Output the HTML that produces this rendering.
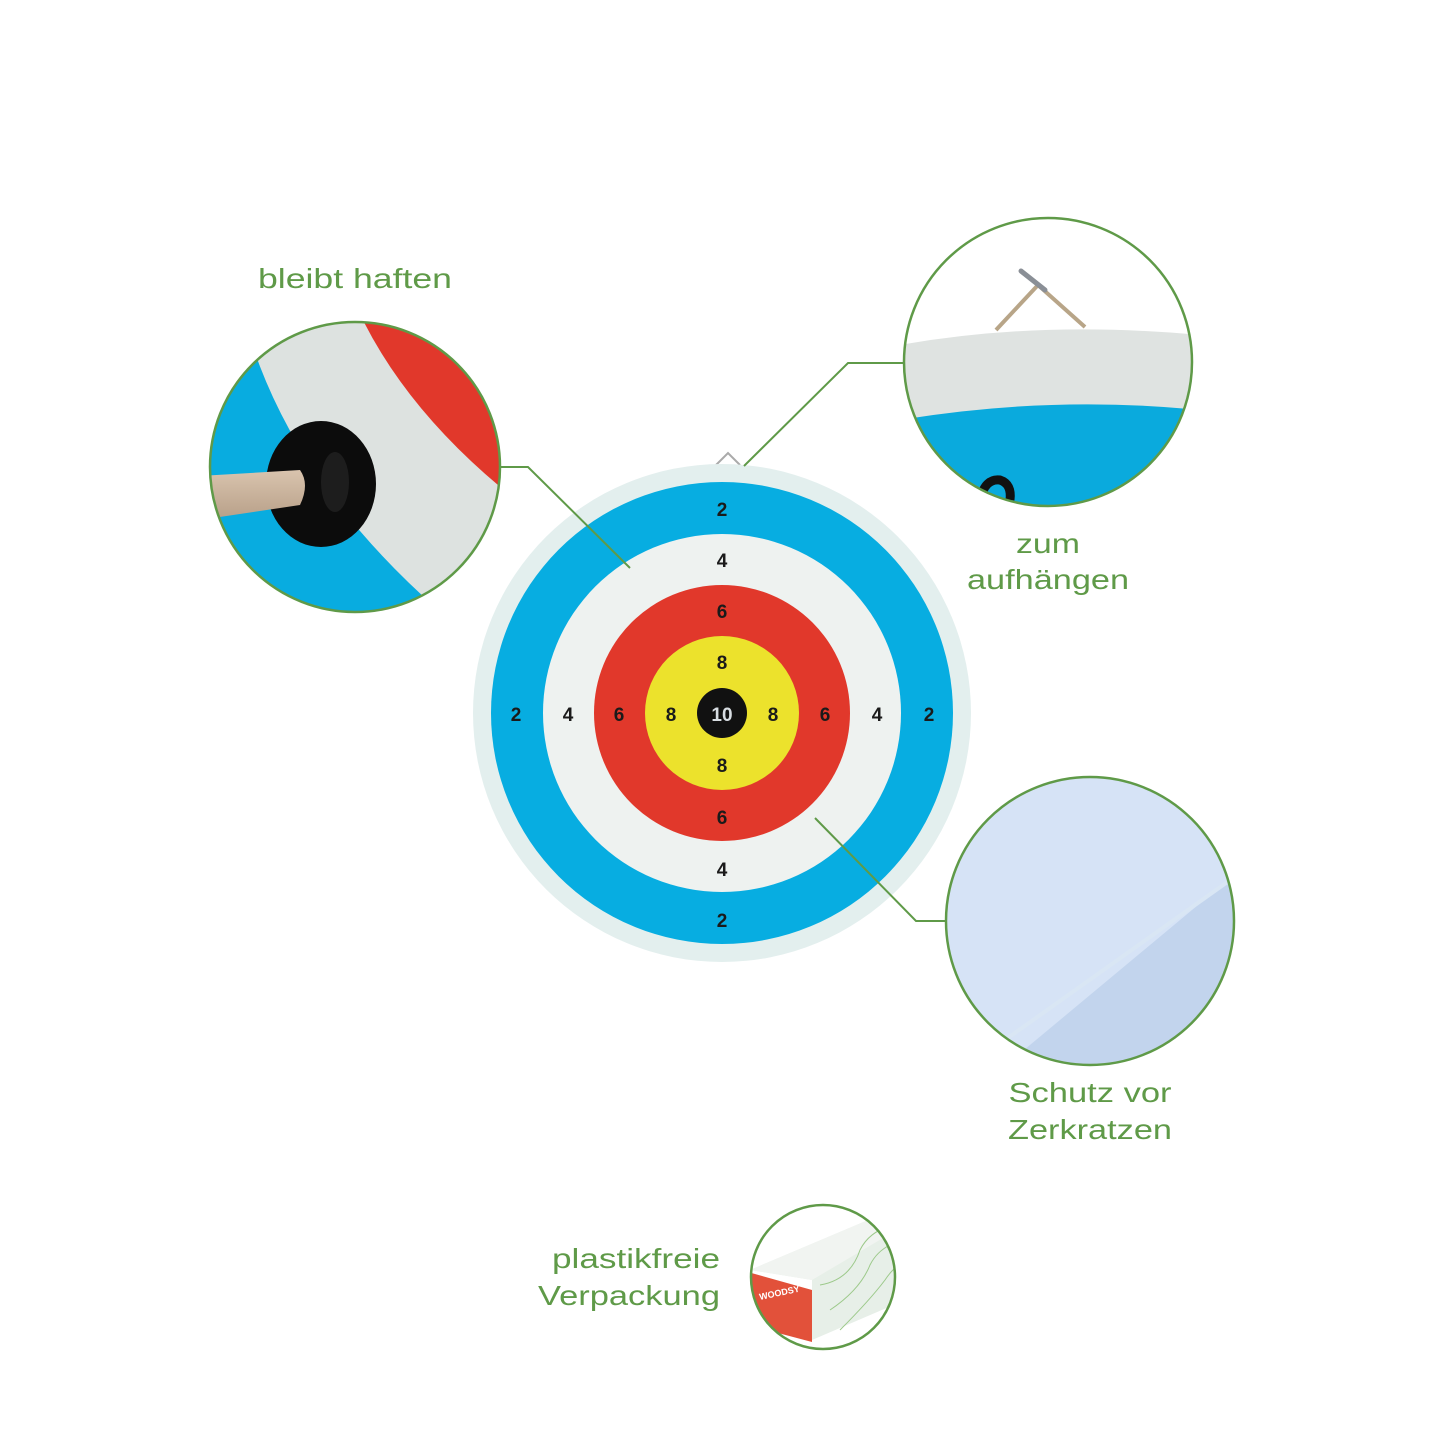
<!DOCTYPE html>
<html><head><meta charset="utf-8"><style>
html,body{margin:0;padding:0;background:#fff}
svg{display:block}
text{font-family:"Liberation Sans",sans-serif}
</style></head><body>
<svg width="1445" height="1445" viewBox="0 0 1445 1445" xmlns="http://www.w3.org/2000/svg">
<defs>
<clipPath id="c1"><circle cx="355" cy="467" r="145"/></clipPath>
<clipPath id="c2"><circle cx="1048" cy="362" r="144"/></clipPath>
<clipPath id="c3"><circle cx="1090" cy="921" r="144"/></clipPath>
<clipPath id="c4"><circle cx="823" cy="1277" r="72"/></clipPath>
<linearGradient id="stick" x1="0" y1="0" x2="0" y2="1"><stop offset="0" stop-color="#d9c4ae"/><stop offset="1" stop-color="#b79f88"/></linearGradient>
</defs>

<path d="M716 465 L728 453 L740 465" fill="none" stroke="#aaa" stroke-width="2"/>
<circle cx="722" cy="713" r="249" fill="#e3efee"/>
<circle cx="722" cy="713" r="231" fill="#07ade1"/>
<circle cx="722" cy="713" r="179" fill="#eef2f0"/>
<circle cx="722" cy="713" r="128" fill="#e1382b"/>
<circle cx="722" cy="713" r="77" fill="#ece22c"/>
<circle cx="722" cy="713" r="25" fill="#111"/>
<g font-size="19" font-weight="bold" fill="#1a1a1a" text-anchor="middle">
<text x="722" y="516">2</text><text x="722" y="567">4</text><text x="722" y="618">6</text><text x="722" y="669">8</text>
<text x="722" y="772">8</text><text x="722" y="824">6</text><text x="722" y="876">4</text><text x="722" y="927">2</text>
<text x="516" y="721">2</text><text x="568" y="721">4</text><text x="619" y="721">6</text><text x="671" y="721">8</text>
<text x="773" y="721">8</text><text x="825" y="721">6</text><text x="877" y="721">4</text><text x="929" y="721">2</text>
<text x="722" y="721" fill="#d8dde2">10</text>
</g>

<g stroke="#5f9a48" stroke-width="2" fill="none">
<polyline points="500,467 528,467 630,568"/>
<polyline points="904,363 848,363 744,466"/>
<polyline points="946,921 916,921 815,818"/>
</g>

<g clip-path="url(#c1)">
<rect x="200" y="310" width="310" height="310" fill="#dde2e0"/>
<path d="M200 310 L242 310 Q285 480 450 620 L200 620 Z" fill="#08ace0"/>
<path d="M358 310 Q405 410 510 495 L510 310 Z" fill="#e1382b"/>
<ellipse cx="321" cy="484" rx="55" ry="63" fill="#0c0c0c"/>
<ellipse cx="335" cy="482" rx="14" ry="30" fill="#2a2a2a" opacity=".6"/>
<path d="M200 476 L300 470 Q310 484 300 505 L200 520 Z" fill="url(#stick)"/>
</g>
<circle cx="355" cy="467" r="145" fill="none" stroke="#5f9a48" stroke-width="2.5"/>

<g clip-path="url(#c2)">
<rect x="900" y="215" width="300" height="300" fill="#fff"/>
<path d="M900 345 Q1040 320 1200 335 L1200 520 L900 520 Z" fill="#dfe3e1"/>
<path d="M900 420 Q1050 395 1200 410 L1200 520 L900 520 Z" fill="#0aaadd"/>
<path d="M996 330 L1038 285 L1085 327" fill="none" stroke="#b8a588" stroke-width="4"/>
<line x1="1021" y1="271" x2="1045" y2="290" stroke="#8a8f96" stroke-width="5" stroke-linecap="round"/>
<path d="M980 500 Q985 478 1000 480 Q1012 484 1010 500" fill="none" stroke="#111" stroke-width="9"/>
</g>
<circle cx="1048" cy="362" r="144" fill="none" stroke="#5f9a48" stroke-width="2.5"/>

<g clip-path="url(#c3)">
<rect x="940" y="770" width="300" height="300" fill="#d6e3f6"/>
<path d="M1240 870 L1240 1070 L1000 1070 Z" fill="#c2d4ed"/>
<line x1="1240" y1="873" x2="1005" y2="1040" stroke="#d9e6f4" stroke-width="4"/>
</g>
<circle cx="1090" cy="921" r="144" fill="none" stroke="#5f9a48" stroke-width="2.5"/>

<g clip-path="url(#c4)">
<rect x="745" y="1200" width="160" height="160" fill="#fff"/>
<path d="M750 1270 L880 1215 L905 1225 L905 1300 L812 1340 L812 1280 Z" fill="#e7efe8"/>
<path d="M750 1270 L880 1215 L905 1225 L812 1280 Z" fill="#f1f4f1"/>
<path d="M748 1272 L812 1290 L812 1342 L748 1325 Z" fill="#e2513a"/>
<text x="760" y="1300" font-size="9" font-weight="bold" fill="#fff" transform="rotate(-12 760 1300)">WOODSY</text>
<g stroke="#9cc98a" stroke-width="1" fill="none">
<path d="M820 1285 Q850 1280 860 1250 Q870 1230 895 1225"/>
<path d="M830 1310 Q860 1290 870 1265 Q880 1245 905 1240"/>
<path d="M840 1330 Q870 1300 885 1280 Q895 1265 905 1262"/>
</g>
</g>
<circle cx="823" cy="1277" r="72" fill="none" stroke="#5f9a48" stroke-width="2.5"/>

<g fill="#5f9a48" font-size="28" text-anchor="middle">
<text x="355" y="288" textLength="194" lengthAdjust="spacingAndGlyphs">bleibt haften</text>
<text x="1048" y="553" textLength="64" lengthAdjust="spacingAndGlyphs">zum</text>
<text x="1048" y="589" textLength="162" lengthAdjust="spacingAndGlyphs">aufhängen</text>
<text x="1090" y="1102" textLength="163" lengthAdjust="spacingAndGlyphs">Schutz vor</text>
<text x="1090" y="1139" textLength="164" lengthAdjust="spacingAndGlyphs">Zerkratzen</text>
</g>
<g fill="#5f9a48" font-size="28" text-anchor="end">
<text x="720" y="1268" textLength="168" lengthAdjust="spacingAndGlyphs">plastikfreie</text>
<text x="720" y="1305" textLength="182" lengthAdjust="spacingAndGlyphs">Verpackung</text>
</g>
</svg>
</body></html>
